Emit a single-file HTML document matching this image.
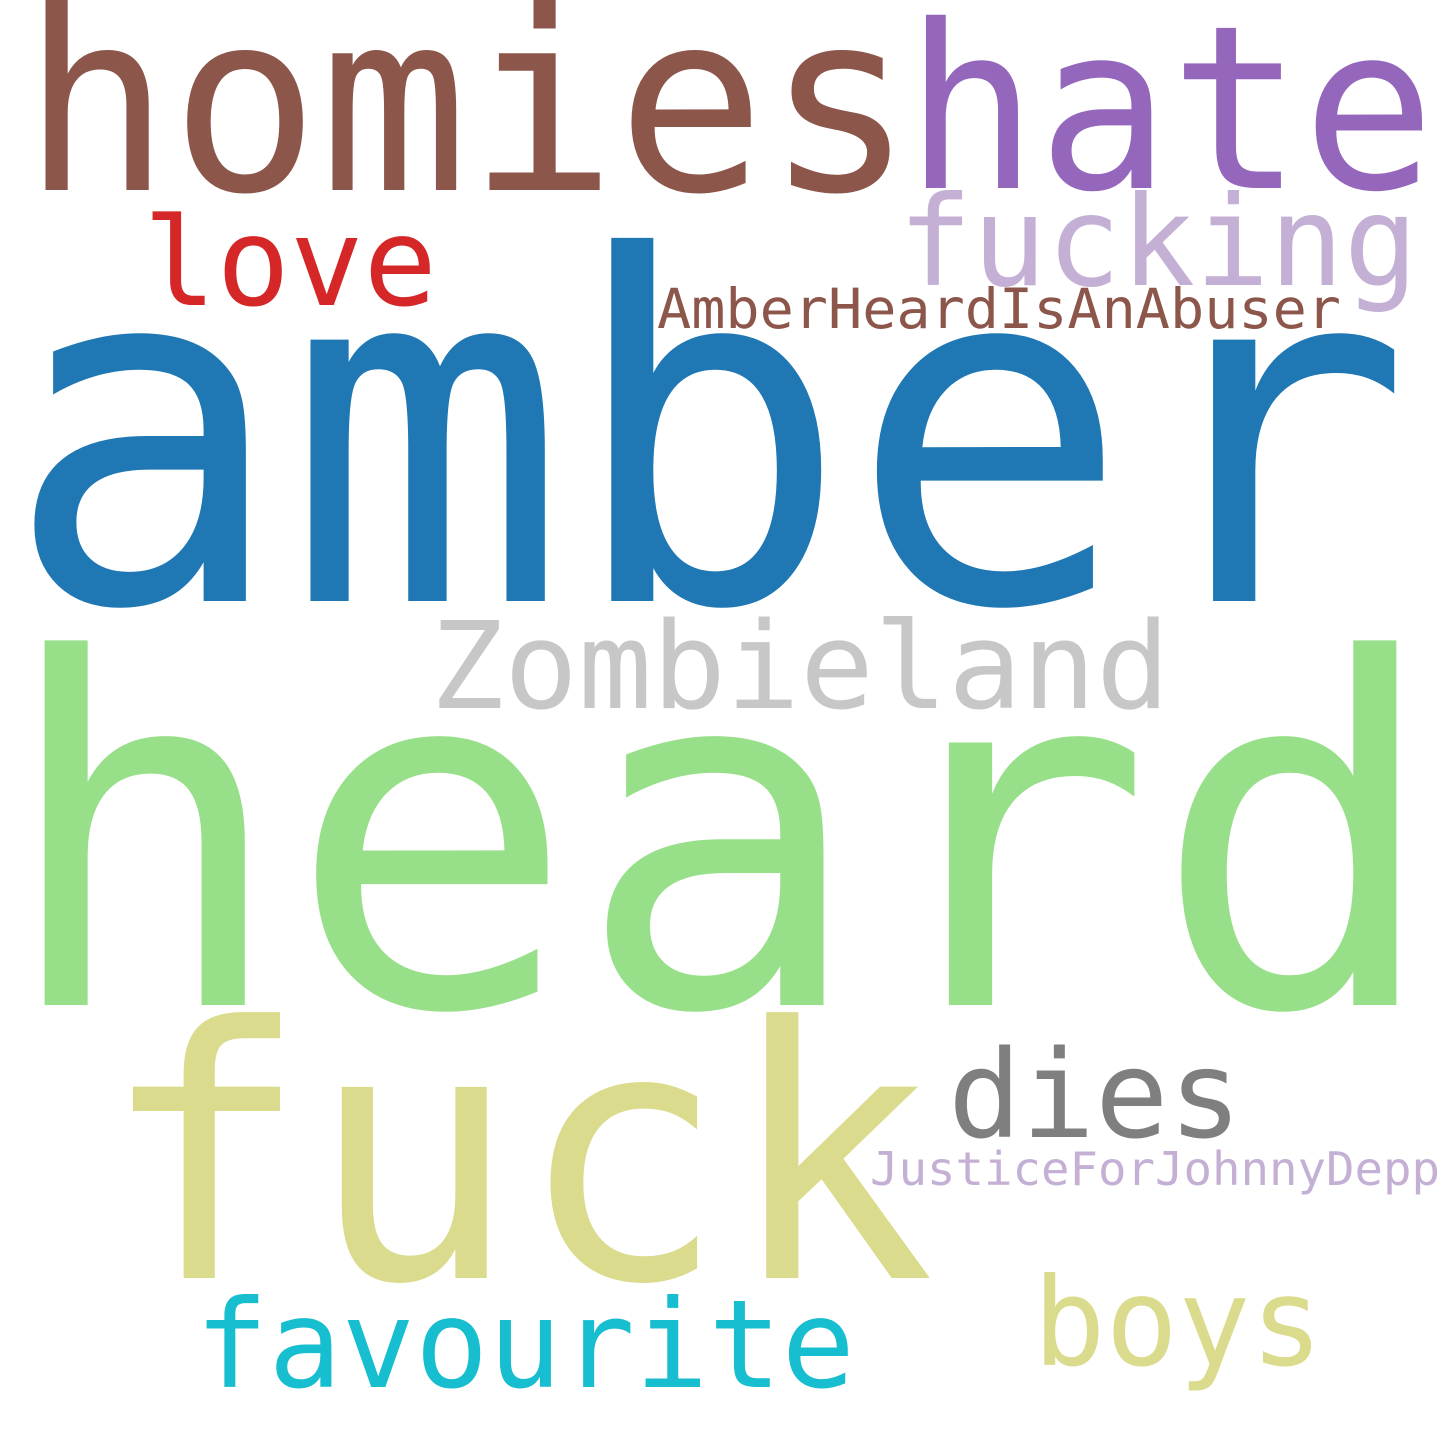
<!DOCTYPE html>
<html><head><meta charset="utf-8"><style>
html,body{margin:0;padding:0;background:#fff;}
svg{display:block;}
text{font-family:"DejaVu Sans Mono","Liberation Mono",monospace;}
</style></head><body>
<svg width="1440" height="1440" viewBox="0 0 1440 1440">
<rect width="1440" height="1440" fill="#fff"/>
<text x="22" y="190" font-size="250" fill="#8c564b" textLength="892" lengthAdjust="spacingAndGlyphs">homies</text>
<text x="905" y="188" font-size="228" fill="#9467bd" textLength="530" lengthAdjust="spacingAndGlyphs">hate</text>
<text x="898" y="285" font-size="125" fill="#c5b0d5" textLength="520" lengthAdjust="spacingAndGlyphs">fucking</text>
<text x="143" y="305" font-size="122" fill="#d62728" textLength="294" lengthAdjust="spacingAndGlyphs">love</text>
<text x="657" y="328" font-size="55" fill="#8c564b" textLength="684" lengthAdjust="spacingAndGlyphs">AmberHeardIsAnAbuser</text>
<text x="4" y="601" font-size="478" fill="#1f77b4" textLength="1408" lengthAdjust="spacingAndGlyphs">amber</text>
<text x="430" y="708" font-size="120" fill="#c7c7c7" textLength="740" lengthAdjust="spacingAndGlyphs">Zombieland</text>
<text x="-1" y="1005" font-size="480" fill="#98df8a" textLength="1442" lengthAdjust="spacingAndGlyphs">heard</text>
<text x="100" y="1278" font-size="350" fill="#dbdb8d" textLength="835" lengthAdjust="spacingAndGlyphs">fuck</text>
<text x="948" y="1137" font-size="121" fill="#7f7f7f" textLength="294" lengthAdjust="spacingAndGlyphs">dies</text>
<text x="870" y="1185" font-size="46" fill="#c5b0d5" textLength="570" lengthAdjust="spacingAndGlyphs">JusticeForJohnnyDepp</text>
<text x="195" y="1387" font-size="122" fill="#17becf" textLength="660" lengthAdjust="spacingAndGlyphs">favourite</text>
<text x="1033" y="1365" font-size="122" fill="#dbdb8d" textLength="290" lengthAdjust="spacingAndGlyphs">boys</text>
</svg>
</body></html>
